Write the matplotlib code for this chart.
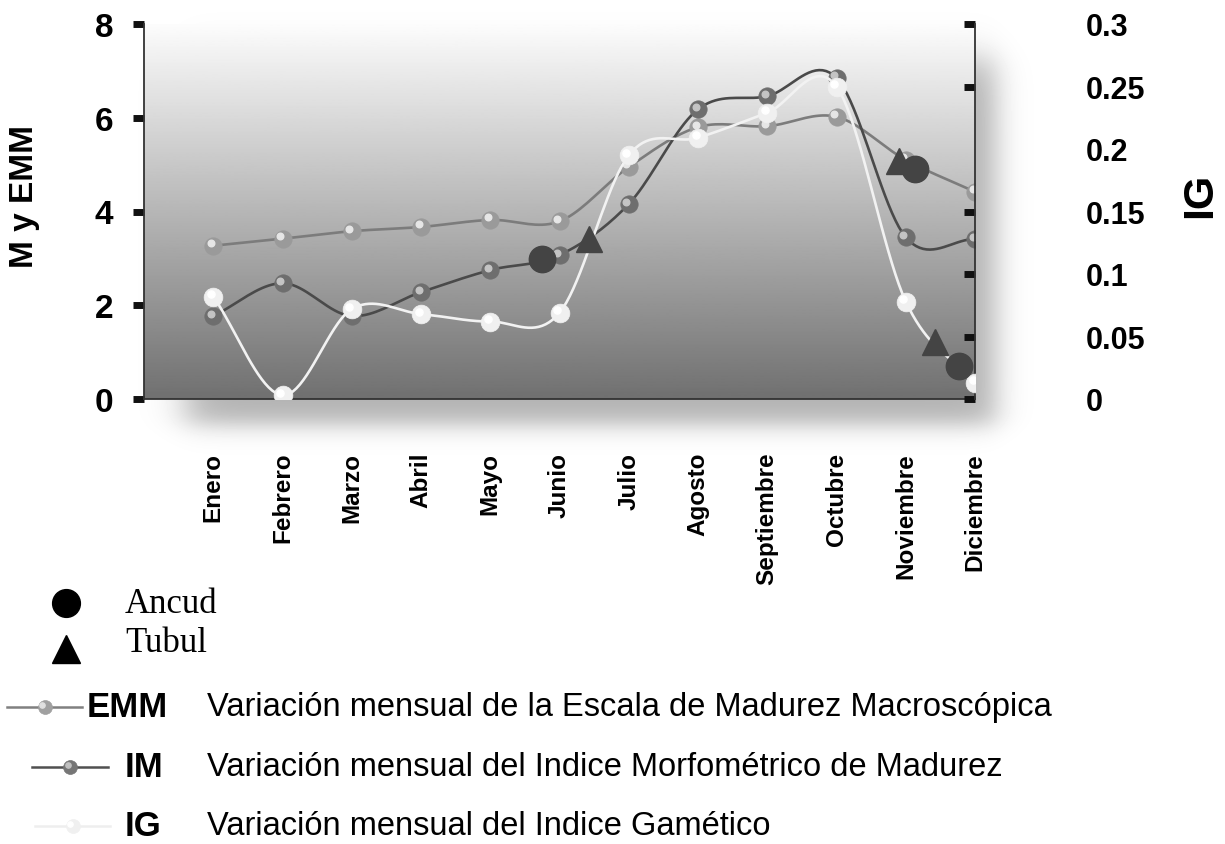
import numpy as np
import matplotlib
matplotlib.use('Agg')
import matplotlib.pyplot as plt
from matplotlib.transforms import offset_copy

months = ['Enero', 'Febrero', 'Marzo', 'Abril', 'Mayo', 'Junio', 'Julio',
          'Agosto', 'Septiembre', 'Octubre', 'Noviembre', 'Diciembre']
emm = [3.27, 3.42, 3.58, 3.67, 3.82, 3.79, 4.95, 5.80, 5.82, 6.02, 5.10, 4.42]
im = [1.77, 2.47, 1.77, 2.28, 2.75, 3.07, 4.16, 6.18, 6.46, 6.85, 3.45, 3.41]
ig = [0.082, 0.003, 0.072, 0.068, 0.062, 0.069, 0.195, 0.209, 0.229, 0.250, 0.078, 0.013]

# sitios, puestos entre meses como en el original
ancud_x = [4.75, 10.13, 10.77]
ancud_y = [2.98, 4.90, 0.70]
tubul_x = [5.43, 9.90, 10.42]
tubul_y = [3.41, 5.08, 1.22]

left_ticks = [0, 2, 4, 6, 8]
right_ticks = [0, 0.05, 0.1, 0.15, 0.2, 0.25, 0.3]
right_labels = ['0', '0.05', '0.1', '0.15', '0.2', '0.25', '0.3']

SANS = ['Liberation Sans', 'DejaVu Sans']
SERIF = ['Liberation Serif', 'DejaVu Serif']

W, H = 1225, 845
fig = plt.figure(figsize=(W / 100, H / 100), dpi=100)


def smooth(x, y, n=20):
    # curva suavizada tipo excel (catmull-rom)
    x = np.asarray(x, float)
    y = np.asarray(y, float)
    px = np.concatenate([[2 * x[0] - x[1]], x, [2 * x[-1] - x[-2]]])
    py = np.concatenate([[2 * y[0] - y[1]], y, [2 * y[-1] - y[-2]]])
    t = np.linspace(0, 1, n, endpoint=False)
    xs, ys = [], []
    for i in range(1, len(px) - 2):
        for p, out in ((px, xs), (py, ys)):
            p0, p1, p2, p3 = p[i - 1], p[i], p[i + 1], p[i + 2]
            out.extend(0.5 * (2 * p1 + (-p0 + p2) * t + (2 * p0 - 5 * p1 + 4 * p2 - p3) * t ** 2
                              + (-p0 + 3 * p1 - 3 * p2 + p3) * t ** 3))
    xs.append(x[-1])
    ys.append(y[-1])
    return np.array(xs), np.array(ys)


def balls(axis, x, y, face, hi, ms=12.5, z=5, transform=None):
    tr = transform if transform is not None else axis.transData
    axis.plot(x, y, 'o', ms=ms, mfc=face, mec=face, mew=0.5, zorder=z, transform=tr)
    axis.plot(x, y, 'o', ms=ms * 0.38, mfc=hi, mec=hi, zorder=z + 0.1,
              transform=offset_copy(tr, fig=fig, x=-2.5, y=2.5, units='dots'))


# sombra detras del area del grafico
bg = fig.add_axes([0, 0, 1, 1], zorder=0)
bg.axis('off')
gx = np.arange(W)[None, :]
gy = np.arange(H)[:, None]
box = (0.5 * (np.tanh((gx - 185) / 22.0) - np.tanh((gx - 995) / 18.0)) *
       0.5 * (np.tanh((gy - 60) / 22.0) - np.tanh((gy - 425) / 14.0)))
bg.imshow(1 - 0.30 * box, extent=[0, W, H, 0], aspect='auto', cmap='gray', vmin=0, vmax=1)
bg.set_xlim(0, W)
bg.set_ylim(H, 0)

ax = fig.add_axes([144 / W, 1 - 400 / H, 831 / W, 375 / H], zorder=1)
grad = np.linspace(0.99, 0.44, 256).reshape(-1, 1)
ax.imshow(grad, extent=[-1, 11, 0, 8], aspect='auto', cmap='gray', vmin=0, vmax=1, zorder=0)
ax.set_xlim(-1, 11)
ax.set_ylim(0, 8)

x = np.arange(len(months))
sx, sy = smooth(x, emm)
ax.plot(sx, sy, color='#7c7c7c', lw=1.9, zorder=3)
balls(ax, x, emm, '#9a9a9a', '#e6e6e6', z=4)
sx, sy = smooth(x, im)
ax.plot(sx, sy, color='#4a4a4a', lw=1.9, zorder=3)
balls(ax, x, im, '#6e6e6e', '#c4c4c4', z=4)

ax.set_xticks(x)
ax.set_xticklabels(months, rotation=90, fontsize=17.5, fontweight='bold', family=SANS)
ax.tick_params(axis='x', length=0, pad=38)
ax.set_yticks(left_ticks)
ax.set_yticklabels([str(v) for v in left_ticks], fontsize=24, fontweight='bold', family=SANS)
ax.tick_params(axis='y', direction='out', length=8, width=5, color='#111', pad=14)
ax.spines['top'].set_visible(False)
ax.spines['right'].set_visible(False)
for s in ('left', 'bottom'):
    ax.spines[s].set_color('#333333')
    ax.spines[s].set_linewidth(1.3)

ax2 = ax.twinx()
ax2.set_ylim(0, 0.3)
sx, sy = smooth(x, ig)
ax2.plot(sx, sy, color='#f2f2f2', lw=1.9, zorder=3)
balls(ax2, x, ig, '#f0f0f0', '#ffffff', ms=13.5, z=4)
ax2.set_yticks(right_ticks)
ax2.set_yticklabels(right_labels, fontsize=22, fontweight='bold', family=SANS)
ax2.tick_params(axis='y', direction='in', length=8, width=5, color='#111', pad=80)
ax2.yaxis.get_major_ticks()[4].tick2line.set_visible(False)
for s in ('top', 'left', 'bottom'):
    ax2.spines[s].set_visible(False)
ax2.spines['right'].set_color('#333333')
ax2.spines['right'].set_linewidth(1.3)

ax2.plot(ancud_x, ancud_y, 'o', ms=19, color='#444444', zorder=6, transform=ax.transData)
ax2.plot(tubul_x, tubul_y, '^', ms=19, color='#444444', zorder=6, transform=ax.transData)

fig.text(25 / W, 1 - 197 / H, 'M y EMM', rotation=90, ha='center', va='center',
         fontsize=24, fontweight='bold', family=SANS)
fig.text(1200 / W, 1 - 195 / H, 'IG', rotation=90, ha='center', va='center',
         fontsize=31, fontweight='bold', family=SANS)

# leyenda dibujada a mano en pixeles de la figura
lg = fig.add_axes([0, 0, 1, 1], zorder=3)
lg.set_xlim(0, W)
lg.set_ylim(H, 0)
lg.axis('off')
lg.plot([66], [604], 'o', ms=20, color='black')
lg.plot([66], [650], '^', ms=20, color='black')
lg.text(125, 613, 'Ancud', fontsize=25, family=SERIF, va='baseline')
lg.text(125, 652, 'Tubul', fontsize=25, family=SERIF, va='baseline')

rows = [('EMM', 708, 7, 82, '#808080', '#a0a0a0', '#e0e0e0', 87,
         'Variación mensual de la Escala de Madurez Macroscópica'),
        ('IM', 768, 32, 108, '#505050', '#767676', '#c0c0c0', 125,
         'Variación mensual del Indice Morfométrico de Madurez'),
        ('IG', 827, 35, 110, '#eeeeee', '#f0f0f0', '#ffffff', 125,
         'Variación mensual del Indice Gamético')]
for name, yy, x0, x1, lc, face, hi, tx, desc in rows:
    lg.plot([x0, x1], [yy, yy], color=lc, lw=1.8)
    balls(lg, [(x0 + x1) / 2], [yy], face, hi, ms=10)
    lg.text(tx, yy, name, fontsize=25, fontweight='bold', family=SANS, va='center')
    lg.text(207, yy, desc, fontsize=23.5, family=SANS, va='center')

fig.savefig('out.png', dpi=100)
